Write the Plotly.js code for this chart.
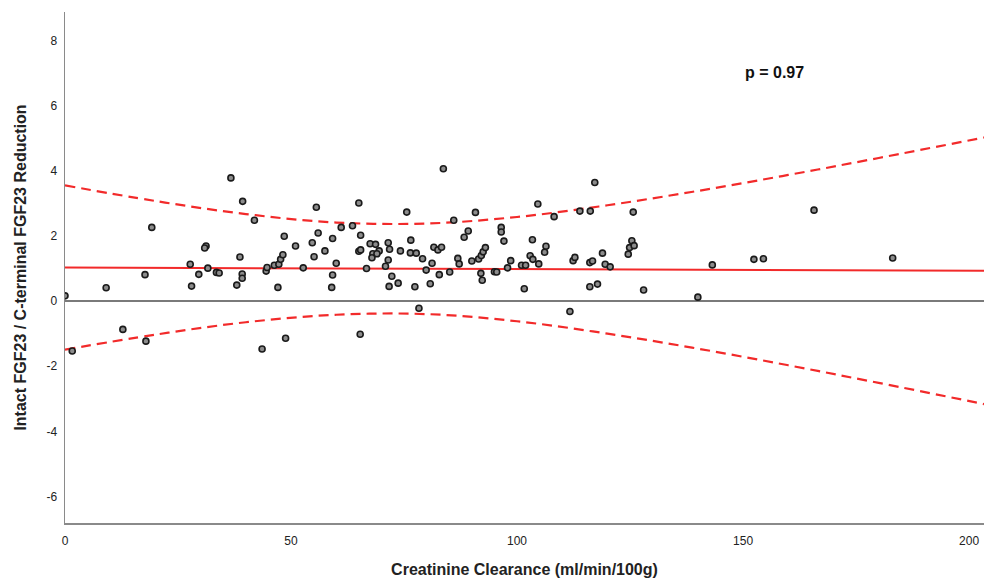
<!DOCTYPE html>
<html>
<head>
<meta charset="utf-8">
<script src="https://cdn.plot.ly/plotly-3.0.1.min.js"></script>
<style>html,body{margin:0;padding:0;background:#fff;}#chart{width:984px;height:578px;}</style>
</head>
<body>
<div id="chart"></div>
<script>
// Scatter data: creatinine clearance vs intact/C-terminal FGF23 reduction
const clearance = [19.2,17.7,9.1,0.0,12.8,17.9,1.6,36.7,39.3,41.9,48.5,31.2,30.9,27.7,31.6,29.6,33.5,34.1,28.0,38.7,39.2,39.2,38.0,44.5,44.7,46.3,47.3,47.7,48.2,47.1,43.6,48.8,55.6,65.0,61.1,63.6,56.0,51.0,54.7,59.2,65.4,57.5,55.1,65.0,65.4,67.5,68.7,69.5,68.1,67.9,69.0,71.5,71.8,71.5,70.9,60.0,52.7,59.2,59.0,66.7,72.3,71.7,65.3,83.7,75.6,90.8,86.0,89.2,88.3,96.5,96.5,97.1,76.5,74.2,76.4,77.7,79.1,81.6,82.5,83.3,81.2,79.9,82.8,85.1,86.9,87.2,90.0,91.5,92.1,92.5,93.0,92.0,92.3,95.0,95.5,73.7,77.4,80.8,78.3,117.2,104.6,108.2,113.9,116.2,103.4,106.4,106.1,102.9,103.5,104.8,98.6,97.9,101.0,101.9,101.6,112.4,112.8,116.1,116.7,116.1,117.8,111.7,125.7,125.4,124.9,125.9,124.6,118.9,119.5,120.6,128.0,140.0,143.2,152.4,154.5,165.7,183.1];
const reduction = [2.26,0.81,0.41,0.16,-0.87,-1.23,-1.53,3.78,3.06,2.48,1.99,1.69,1.63,1.13,1.01,0.82,0.88,0.86,0.46,1.35,0.83,0.70,0.49,0.92,1.03,1.10,1.13,1.28,1.42,0.42,-1.47,-1.14,2.88,3.01,2.26,2.31,2.09,1.69,1.79,1.92,2.02,1.54,1.36,1.53,1.57,1.76,1.74,1.54,1.45,1.33,1.45,1.79,1.59,1.26,1.07,1.16,1.02,0.80,0.42,1.00,0.76,0.45,-1.02,4.06,2.73,2.72,2.48,2.15,1.96,2.26,2.12,1.84,1.87,1.54,1.48,1.47,1.30,1.65,1.57,1.65,1.16,0.95,0.81,0.89,1.31,1.14,1.23,1.29,1.40,1.51,1.64,0.85,0.64,0.90,0.89,0.55,0.44,0.53,-0.22,3.64,2.98,2.59,2.76,2.76,1.88,1.68,1.50,1.39,1.28,1.14,1.24,1.02,1.10,1.10,0.38,1.24,1.34,1.18,1.23,0.44,0.52,-0.32,2.73,1.85,1.64,1.70,1.44,1.47,1.13,1.05,0.34,0.12,1.11,1.28,1.30,2.79,1.32];

// Fit line
const fitX = [0, 203.3];
const fitY = [1.03, 0.93];

// Prediction band
const bandX = [0, 20, 40, 60, 80, 100, 120, 140, 160, 180, 203.3];
const bandUpper = [3.55, 3.07, 2.67, 2.41, 2.38, 2.58, 2.94, 3.38, 3.87, 4.39, 5.02];
const bandLower = [-1.49, -1.03, -0.65, -0.42, -0.40, -0.62, -1.00, -1.46, -1.97, -2.51, -3.16];

const xTicks = [0, 50, 100, 150, 200];
const yTicks = [-6, -4, -2, 0, 2, 4, 6, 8];
const pLabel = 'p = 0.97';

const red = '#f22a2a';
const traces = [
  {x: bandX, y: bandUpper, mode: 'lines', line: {color: red, width: 2.2, dash: '10px,6px', shape: 'spline'}, hoverinfo: 'skip'},
  {x: bandX, y: bandLower, mode: 'lines', line: {color: red, width: 2.2, dash: '10px,6px', shape: 'spline'}, hoverinfo: 'skip'},
  {x: fitX, y: fitY, mode: 'lines', line: {color: red, width: 2}, hoverinfo: 'skip'},
  {x: clearance, y: reduction, mode: 'markers', marker: {size: 6, color: '#8c8c8c', line: {color: '#1a1a1a', width: 1.6}}}
];

const layout = {
  width: 984, height: 578,
  margin: {l: 65, r: 0, t: 12, b: 55},
  paper_bgcolor: '#fff', plot_bgcolor: '#fff',
  showlegend: false,
  font: {family: 'Liberation Sans, Arial, sans-serif', color: '#222'},
  xaxis: {
    range: [0, 203.3], tickvals: xTicks, ticktext: xTicks.map(String),
    showgrid: false, zeroline: false, showline: true, linecolor: '#8a8a8a', linewidth: 1.5,
    ticks: '', tickfont: {size: 12, color: '#222'}, ticklabelstandoff: 6,
    title: {text: 'Creatinine Clearance (ml/min/100g)', font: {size: 16, color: '#222', weight: 'bold'}, standoff: 20}
  },
  yaxis: {
    range: [-6.81, 8.87], tickvals: yTicks, ticktext: yTicks.map(String),
    showgrid: false, zeroline: true, zerolinecolor: '#7a7a7a', zerolinewidth: 1.8,
    showline: true, linecolor: '#8a8a8a', linewidth: 1.5,
    ticks: '', tickfont: {size: 12, color: '#222'}, ticklabelstandoff: 4,
    title: {text: 'Intact FGF23 / C-terminal FGF23 Reduction', font: {size: 16, color: '#222', weight: 'bold'}, standoff: 16}
  },
  annotations: [{
    x: 157, y: 7.0, xref: 'x', yref: 'y', text: pLabel, showarrow: false,
    font: {size: 16, color: '#111', weight: 'bold'}
  }]
};

Plotly.newPlot('chart', traces, layout, {staticPlot: true, displayModeBar: false});
</script>
</body>
</html>
